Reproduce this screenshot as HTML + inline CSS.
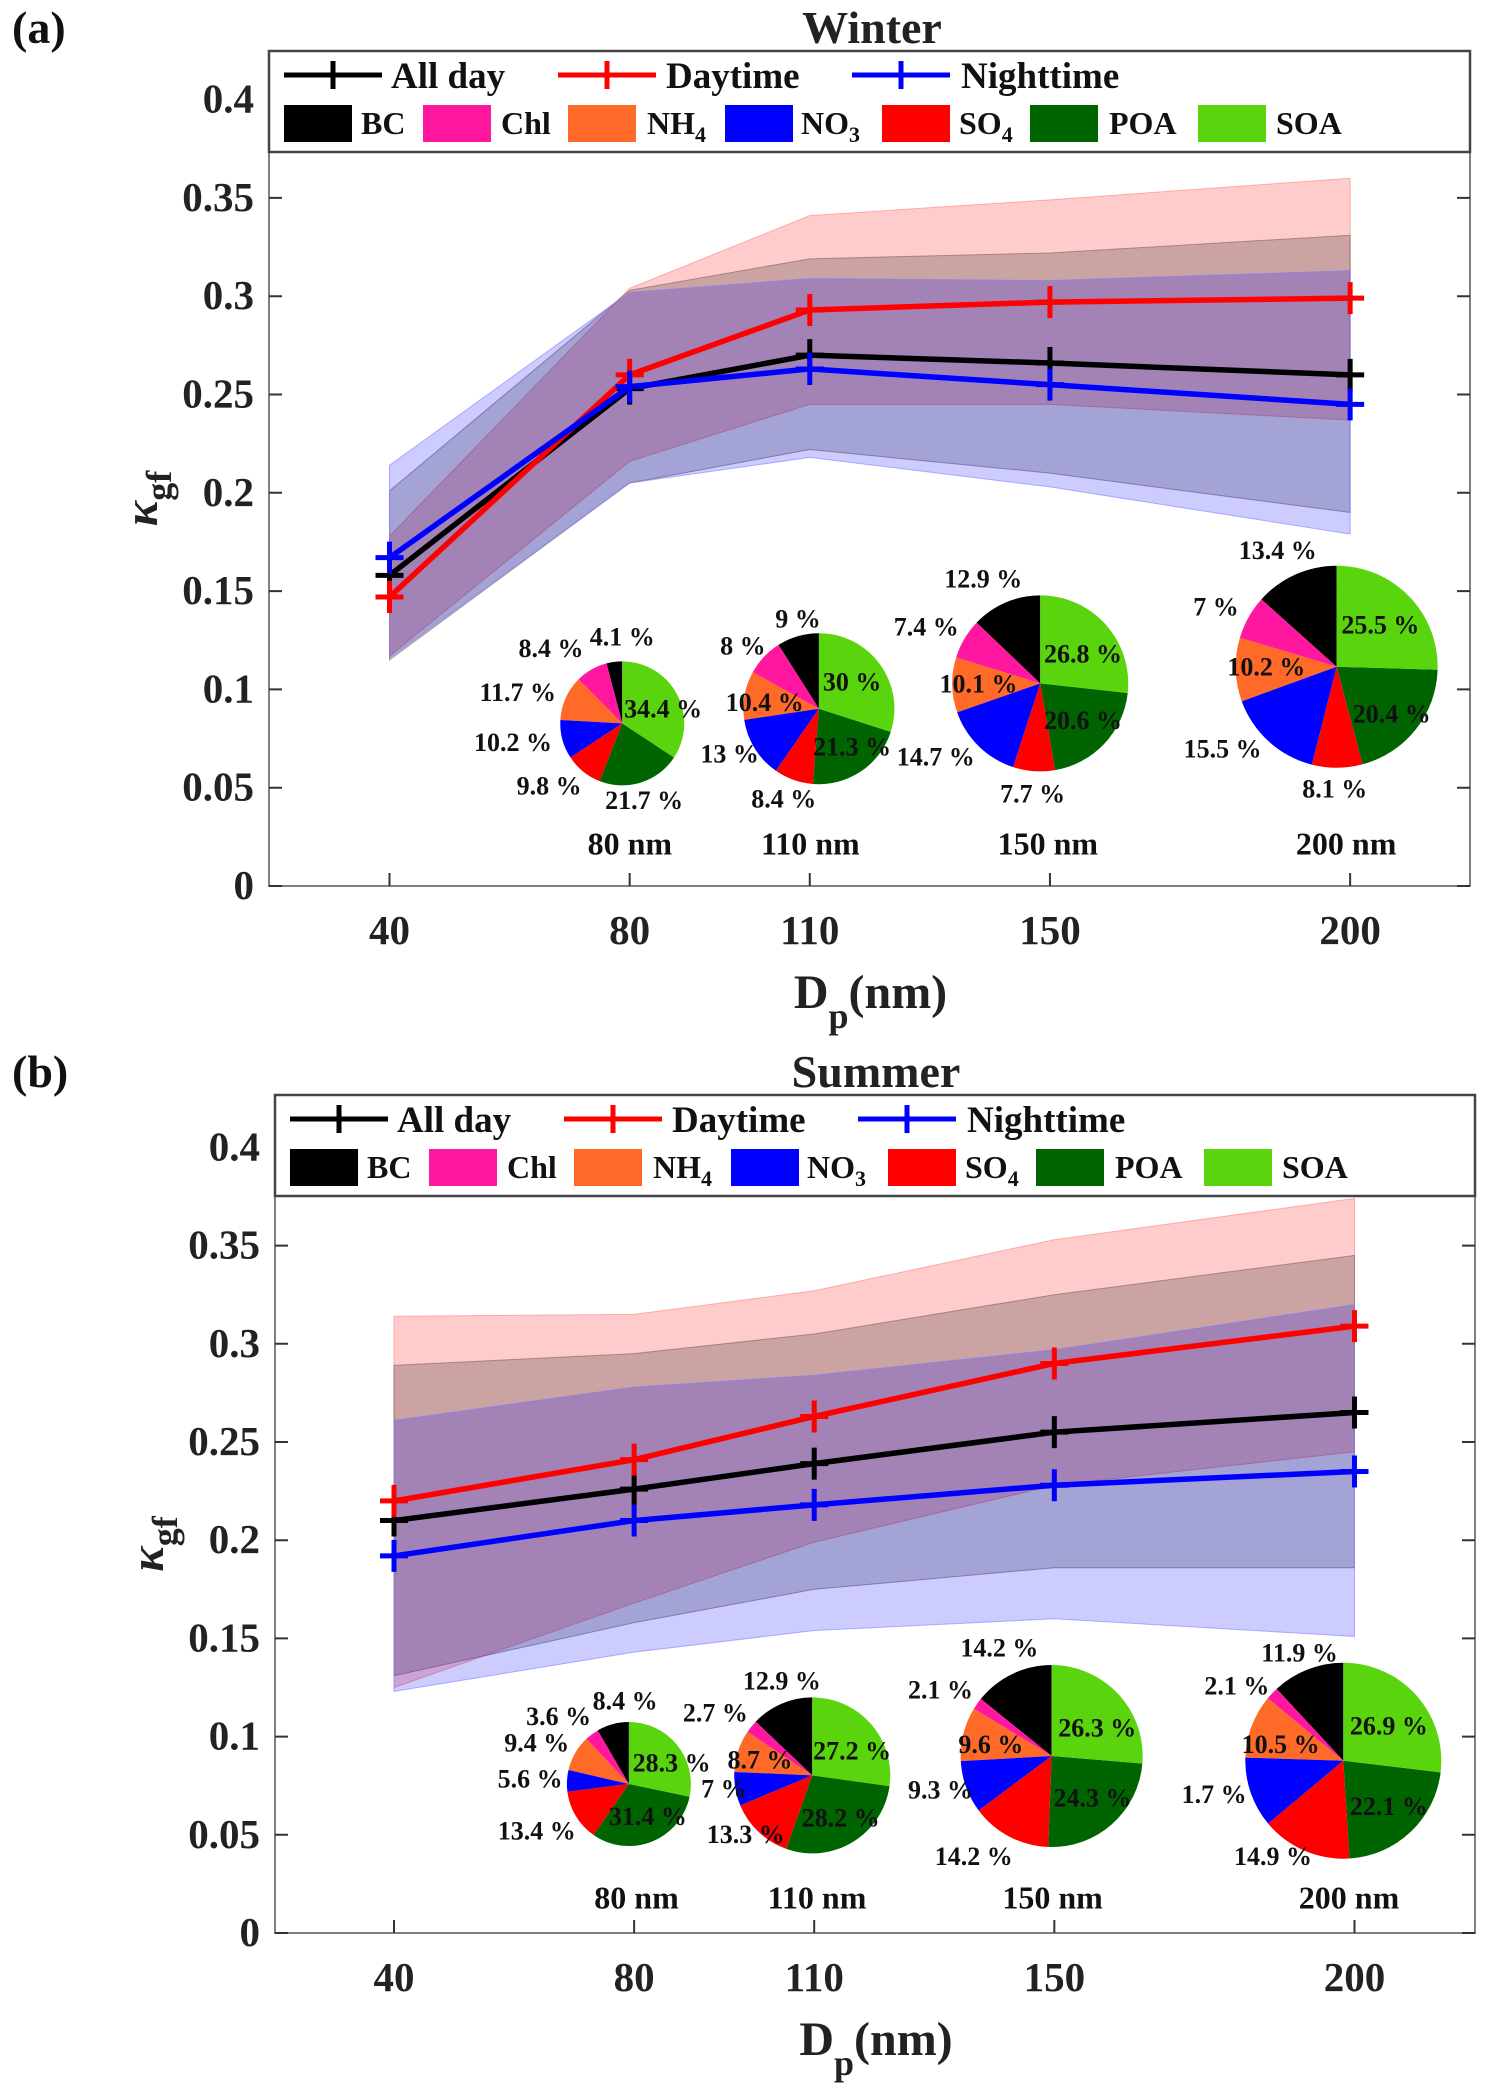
<!DOCTYPE html>
<html><head><meta charset="utf-8"><style>
html,body{margin:0;padding:0;background:#fff;}
svg{display:block;font-family:"Liberation Serif","DejaVu Serif",serif;font-weight:bold;}
</style></head>
<body>
<svg id="fig" width="1488" height="2088" viewBox="0 0 1488 2088" xmlns="http://www.w3.org/2000/svg"></svg>
<script>
// ---------- data ----------
const categories = ["40","80","110","150","200"];
const catPos = [1,5,8,12,17];
const yTicks = [0,0.05,0.1,0.15,0.2,0.25,0.3,0.35,0.4];
const yTickLabels = ["0","0.05","0.1","0.15","0.2","0.25","0.3","0.35","0.4"];
// Winter
const wAll = [0.158,0.253,0.270,0.266,0.260];
const wDay = [0.147,0.260,0.293,0.297,0.299];
const wNight = [0.167,0.254,0.263,0.255,0.245];
const wAllUp = [0.201,0.303,0.319,0.322,0.331];
const wAllLo = [0.115,0.205,0.222,0.210,0.190];
const wDayUp = [0.178,0.304,0.341,0.349,0.360];
const wDayLo = [0.117,0.216,0.245,0.245,0.237];
const wNightUp = [0.214,0.302,0.309,0.308,0.313];
const wNightLo = [0.116,0.205,0.218,0.203,0.179];
// Summer
const sAll = [0.210,0.226,0.239,0.255,0.265];
const sDay = [0.220,0.241,0.263,0.290,0.309];
const sNight = [0.192,0.210,0.218,0.228,0.235];
const sAllUp = [0.289,0.295,0.305,0.325,0.345];
const sAllLo = [0.131,0.158,0.175,0.186,0.186];
const sDayUp = [0.314,0.315,0.327,0.353,0.374];
const sDayLo = [0.125,0.168,0.199,0.228,0.245];
const sNightUp = [0.261,0.278,0.284,0.297,0.320];
const sNightLo = [0.123,0.143,0.154,0.160,0.151];
// pie compositions: BC, Chl, NH4, NO3, SO4, POA, SOA
const species = ["BC","Chl","NH4","NO3","SO4","POA","SOA"];
const speciesColors = ["#000000","#ff17a0","#ff6a28","#0000ff","#ff0000","#006400","#5ad40c"];
const wPie80 = [4.1,8.4,11.7,10.2,9.8,21.7,34.4];
const wPie110 = [9,8,10.4,13,8.4,21.3,30];
const wPie150 = [12.9,7.4,10.1,14.7,7.7,20.6,26.8];
const wPie200 = [13.4,7,10.2,15.5,8.1,20.4,25.5];
const sPie80 = [8.4,3.6,9.4,5.6,13.4,31.4,28.3];
const sPie110 = [12.9,2.7,8.7,7,13.3,28.2,27.2];
const sPie150 = [14.2,2.1,9.6,9.3,14.2,24.3,26.3];
const sPie200 = [11.9,2.1,10.5,11.6,14.9,22.1,26.9];
const pieSizes = ["80 nm","110 nm","150 nm","200 nm"];
const wPieLabels = [
 [["4.1 %",655,955],["8.4 %",580,972],["11.7 %",545,1038],["34.4 %",698,1063],["10.2 %",540,1113],["9.8 %",578,1178],["21.7 %",678,1200]],
 [["9 %",840,928],["8 %",782,968],["30 %",897,1022],["10.4 %",805,1053],["13 %",768,1130],["21.3 %",897,1120],["14.7 %",985,1135],["8.4 %",825,1198]],
 [["12.9 %",1035,868],["7.4 %",975,940],["26.8 %",1140,980],["10.1 %",1030,1025],["20.6 %",1140,1080],["7.7 %",1087,1190]],
 [["13.4 %",1345,825],["7 %",1280,910],["25.5 %",1453,937],["10.2 %",1333,1000],["20.4 %",1465,1070],["15.5 %",1287,1123],["8.1 %",1405,1183]]
];
const sPieLabels = [
 [["8.4 %",658,985],["3.6 %",588,1008],["9.4 %",565,1048],["28.3 %",707,1078],["5.6 %",558,1102],["31.4 %",682,1158],["13.4 %",565,1180]],
 [["12.9 %",823,955],["2.7 %",753,1003],["8.7 %",800,1073],["27.2 %",897,1060],["7 %",762,1117],["28.2 %",885,1160],["13.3 %",785,1185]],
 [["14.2 %",1052,905],["2.1 %",990,968],["26.3 %",1155,1025],["9.6 %",1043,1050],["9.3 %",990,1118],["24.3 %",1150,1130],["14.2 %",1025,1218]],
 [["11.9 %",1368,913],["2.1 %",1302,962],["26.9 %",1462,1022],["10.5 %",1348,1050],["1.7 %",1278,1125],["22.1 %",1462,1143],["14.9 %",1340,1218]]
];

const NS="http://www.w3.org/2000/svg";
const svg=document.getElementById('fig');
function mk(tag,attrs,parent){const e=document.createElementNS(NS,tag);for(const k in attrs)e.setAttribute(k,attrs[k]);(parent||svg).appendChild(e);return e;}

function panel(cfg){
  const g=mk('g',{});
  
  
  const L=cfg.left,R=cfg.right,T=cfg.top,B=cfg.bottom;
  const xS=p=>cfg.x40+(p-1)*cfg.unit;
  const yS=v=>B-v*cfg.perUnit;
  const zx=x=>x*0.95, zy=y=>cfg.yOff+y*0.6667;
  const bands=[[cfg.dayUp,cfg.dayLo,'rgba(255,0,0,0.2)','#ff8080','day-band'],[cfg.allUp,cfg.allLo,'rgba(0,0,0,0.2)','#806060','allday-band'],[cfg.nightUp,cfg.nightLo,'rgba(0,0,255,0.2)','#8080ff','night-band']];
  bands.forEach(b=>{
    let d='';
    b[0].forEach((v,i)=>{d+=(i?'L':'M')+xS(catPos[i])+','+yS(v);});
    for(let i=b[1].length-1;i>=0;i--)d+='L'+xS(catPos[i])+','+yS(b[1][i]);
    const p=mk('path',{d:d+'Z',fill:b[2],stroke:b[3],'stroke-width':1,'stroke-opacity':0.6},g);
    
    
  });
  const series=[[cfg.all,'#000','allday-line'],[cfg.day,'#ff0000','daytime-line'],[cfg.night,'#0000ff','nighttime-line']];
  series.forEach(s=>{
    const pts=s[0].map((v,i)=>xS(catPos[i])+','+yS(v)).join(' ');
    const pl=mk('polyline',{points:pts,fill:'none',stroke:s[1],'stroke-width':5.5},g);
    
    
    s[0].forEach((v,i)=>{
      const x=xS(catPos[i]),y=yS(v);
      const m=mk('path',{d:`M${x-14},${y}H${x+14}M${x},${y-16}V${y+16}`,stroke:s[1],'stroke-width':5},g);
      
      
    });
  });
  const ax=mk('path',{d:`M${L},${T}V${B}H${R}V${T}`,fill:'none',stroke:'#808080','stroke-width':2},g);
  
  
  yTicks.forEach((v,i)=>{
    const y=yS(v);
    if(y>=cfg.legendBottom) mk('path',{d:`M${L},${y}h13M${R},${y}h-13`,stroke:'#333','stroke-width':2},g);
    const t=mk('text',{x:L-15,y:y+13,'text-anchor':'end','font-size':41,fill:'#222'},g);
    t.textContent=yTickLabels[i];
    
    
  });
  categories.forEach((c,i)=>{
    const x=xS(catPos[i]);
    mk('path',{d:`M${x},${B}v-13`,stroke:'#333','stroke-width':2},g);
    const t=mk('text',{x:x,y:B+58,'text-anchor':'middle','font-size':41,fill:'#222'},g);
    t.textContent=c;
    
    
  });
  const xt=mk('text',{x:(L+R)/2+1,y:B+122,'text-anchor':'middle','font-size':48,fill:'#222'},g);
  xt.innerHTML='D<tspan font-size="36" dy="20">p</tspan><tspan dy="-20">(nm)</tspan>';
  
  
  const yt=mk('text',{transform:`translate(${L-112},${(T+B)/2+30}) rotate(-90)`,'text-anchor':'middle','font-size':48,fill:'#222'},g);
  yt.innerHTML='<tspan font-style="italic">κ</tspan><tspan font-size="36" dy="14">gf</tspan>';
  
  
  const tt=mk('text',{x:cfg.titleX,y:T-8,'text-anchor':'middle','font-size':46,fill:'#222'},g);
  tt.textContent=cfg.title;
  
  
  const pl=mk('text',{x:12,y:T-8,'font-size':46,fill:'#111'},g);
  pl.textContent=cfg.panelLabel;
  
  
  const lg=mk('g',{},g);
  
  
  mk('rect',{x:L,y:T,width:R-L,height:cfg.legendBottom-T,fill:'#fff',stroke:'#444','stroke-width':2.5},lg);
  const r1=T+24, dx=cfg.left-269;
  [[284,391,'#000','All day'],[558,666,'#ff0000','Daytime'],[852,961,'#0000ff','Nighttime']].forEach(e=>{
    const x1=e[0]+dx;
    mk('path',{d:`M${x1},${r1}H${x1+98}M${x1+49},${r1-14}V${r1+14}`,stroke:e[2],'stroke-width':5},lg);
    const t=mk('text',{x:e[1]+dx,y:r1+13,'font-size':37,fill:'#111'},lg);
    t.textContent=e[3];
    
    
  });
  const r2=T+72;
  const sw=[284,423,568,725,882,1030,1198], tx=[361,501,647,801,959,1109,1276];
  species.forEach((s,i)=>{
    mk('rect',{x:sw[i]+dx,y:r2-18,width:68,height:37,fill:speciesColors[i]},lg);
    const t=mk('text',{x:tx[i]+dx,y:r2+11,'font-size':32,fill:'#111'},lg);
    if(s.length===3&&/\d/.test(s[2])) t.innerHTML=s.slice(0,2)+'<tspan font-size="22" dy="8">'+s[2]+'</tspan>';
    else t.textContent=s;
    
    
  });
  cfg.pies.forEach((pd,k)=>{
    const geo=cfg.pieGeo[k];
    const cx=zx(geo[0]),cy=zy(geo[1]),r=geo[2];
    const pg=mk('g',{},g);
    
    
    const tot=pd.reduce((a,b)=>a+b,0);
    let acc=0;
    pd.forEach((v,i)=>{
      const a0=2*Math.PI*acc/tot; acc+=v; const a1=2*Math.PI*acc/tot;
      const x0=cx-r*Math.sin(a0),y0=cy-r*Math.cos(a0),x1=cx-r*Math.sin(a1),y1=cy-r*Math.cos(a1);
      const large=(a1-a0)>Math.PI?1:0;
      const sl=mk('path',{d:`M${cx},${cy}L${x0},${y0}A${r},${r} 0 ${large} 0 ${x1},${y1}Z`,fill:speciesColors[i]},pg);
      
      
    });
    cfg.pieLabels[k].forEach(l=>{
      const t=mk('text',{x:zx(l[1]),y:zy(l[2])+9,'text-anchor':'middle','font-size':26,fill:'#111'},pg);
      t.textContent=l[0];
      
      
    });
    const st=mk('text',{x:zx(cfg.sizeX[k]),y:zy(cfg.sizeY)+11,'text-anchor':'middle','font-size':32,fill:'#111'},pg);
    st.textContent=pieSizes[k];
    
    
  });
}

panel({name:'winter-panel',title:'Winter',panelLabel:'(a)',titleX:872,
  left:269,right:1470,top:51,bottom:886,legendBottom:152,x40:389.5,unit:60.04,perUnit:1966,yOff:0,
  all:wAll,day:wDay,night:wNight,allUp:wAllUp,allLo:wAllLo,dayUp:wDayUp,dayLo:wDayLo,nightUp:wNightUp,nightLo:wNightLo,
  pies:[wPie80,wPie110,wPie150,wPie200],pieLabels:wPieLabels,
  pieGeo:[[655,1085,62],[862,1063,75.5],[1095,1025,88],[1407,1000,101]],
  sizeX:[663,853,1103,1417],sizeY:1265});
panel({name:'summer-panel',title:'Summer',panelLabel:'(b)',titleX:876,
  left:275,right:1475,top:1095,bottom:1933,legendBottom:1196,x40:394,unit:60.03,perUnit:1964,yOff:1044,
  all:sAll,day:sDay,night:sNight,allUp:sAllUp,allLo:sAllLo,dayUp:sDayUp,dayLo:sDayLo,nightUp:sNightUp,nightLo:sNightLo,
  pies:[sPie80,sPie110,sPie150,sPie200],pieLabels:sPieLabels,
  pieGeo:[[662,1110,62],[855,1097,78],[1107,1068,91],[1414,1075,98]],
  sizeX:[670,860,1108,1420],sizeY:1280});
</script>
</body></html>
